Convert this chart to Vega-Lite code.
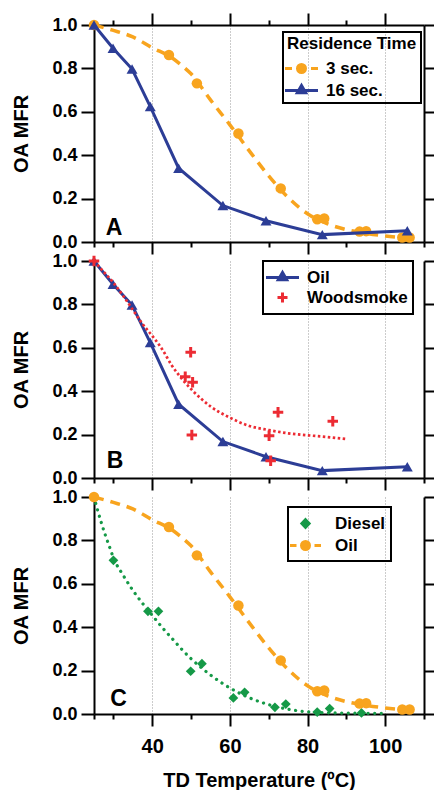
{
  "$schema": "https://vega.github.io/schema/vega-lite/v6.json",
  "background": "white",
  "padding": {"left": 11, "top": 12, "right": 0, "bottom": 0},
  "spacing": 19,
  "bounds": "flush",
  "resolve": {"scale": {"color": "independent"}, "legend": {"color": "independent"}},
  "config": {
    "view": {"stroke": null},
    "axis": {"domainColor": "black", "tickColor": "black", "domainWidth": 2, "tickWidth": 2, "labelFont": "Liberation Sans", "labelFontWeight": "bold", "labelColor": "black", "titleFont": "Liberation Sans", "titleFontWeight": "bold", "titleColor": "black"},
    "legend": {"labelFont": "Liberation Sans", "labelFontWeight": "bold", "labelColor": "black", "labelFontSize": 17, "titleFont": "Liberation Sans", "titleFontWeight": "bold", "titleColor": "black", "titleFontSize": 17, "strokeColor": "black", "symbolSize": 400, "symbolStrokeWidth": 3, "symbolOffset": 3, "labelOffset": 13, "rowPadding": -1, "padding": 4, "orient": "none"}
  },
  "datasets": {
    "panelA": [
      {"series": "3 sec.", "T": 25, "MFR": 1.0},
      {"series": "3 sec.", "T": 44.3, "MFR": 0.862},
      {"series": "3 sec.", "T": 51.5, "MFR": 0.731},
      {"series": "3 sec.", "T": 62.2, "MFR": 0.5},
      {"series": "3 sec.", "T": 73.1, "MFR": 0.247},
      {"series": "3 sec.", "T": 82.5, "MFR": 0.105},
      {"series": "3 sec.", "T": 84.3, "MFR": 0.108},
      {"series": "3 sec.", "T": 93.4, "MFR": 0.048},
      {"series": "3 sec.", "T": 95.1, "MFR": 0.05},
      {"series": "3 sec.", "T": 104.4, "MFR": 0.021},
      {"series": "3 sec.", "T": 106.3, "MFR": 0.021},
      {"series": "16 sec.", "T": 25, "MFR": 1.0},
      {"series": "16 sec.", "T": 29.9, "MFR": 0.893},
      {"series": "16 sec.", "T": 34.8, "MFR": 0.797},
      {"series": "16 sec.", "T": 39.5, "MFR": 0.624},
      {"series": "16 sec.", "T": 46.8, "MFR": 0.34},
      {"series": "16 sec.", "T": 58.2, "MFR": 0.168},
      {"series": "16 sec.", "T": 69.3, "MFR": 0.098},
      {"series": "16 sec.", "T": 83.8, "MFR": 0.034},
      {"series": "16 sec.", "T": 105.7, "MFR": 0.052}
    ],
    "fitA": [
      {"series": "3 sec.", "T": 25, "MFR": 1.0}, {"series": "3 sec.", "T": 30, "MFR": 0.975}, {"series": "3 sec.", "T": 35, "MFR": 0.945}, {"series": "3 sec.", "T": 40, "MFR": 0.895},
      {"series": "3 sec.", "T": 45, "MFR": 0.85}, {"series": "3 sec.", "T": 47.5, "MFR": 0.815}, {"series": "3 sec.", "T": 50, "MFR": 0.775}, {"series": "3 sec.", "T": 55, "MFR": 0.655},
      {"series": "3 sec.", "T": 60, "MFR": 0.54}, {"series": "3 sec.", "T": 65, "MFR": 0.42}, {"series": "3 sec.", "T": 70, "MFR": 0.305}, {"series": "3 sec.", "T": 75, "MFR": 0.205},
      {"series": "3 sec.", "T": 80, "MFR": 0.13}, {"series": "3 sec.", "T": 85, "MFR": 0.085}, {"series": "3 sec.", "T": 90, "MFR": 0.057}, {"series": "3 sec.", "T": 95, "MFR": 0.04},
      {"series": "3 sec.", "T": 100, "MFR": 0.028}, {"series": "3 sec.", "T": 108, "MFR": 0.015}
    ],
    "panelB": [
      {"series": "Oil", "T": 25, "MFR": 1.0},
      {"series": "Oil", "T": 29.9, "MFR": 0.893},
      {"series": "Oil", "T": 34.8, "MFR": 0.797},
      {"series": "Oil", "T": 39.5, "MFR": 0.624},
      {"series": "Oil", "T": 46.8, "MFR": 0.34},
      {"series": "Oil", "T": 58.2, "MFR": 0.168},
      {"series": "Oil", "T": 69.3, "MFR": 0.098},
      {"series": "Oil", "T": 83.8, "MFR": 0.034},
      {"series": "Oil", "T": 105.7, "MFR": 0.052},
      {"series": "Woodsmoke", "T": 25, "MFR": 1.0},
      {"series": "Woodsmoke", "T": 49.9, "MFR": 0.579},
      {"series": "Woodsmoke", "T": 48.5, "MFR": 0.467},
      {"series": "Woodsmoke", "T": 50.4, "MFR": 0.441},
      {"series": "Woodsmoke", "T": 50.2, "MFR": 0.198},
      {"series": "Woodsmoke", "T": 72.4, "MFR": 0.303},
      {"series": "Woodsmoke", "T": 70.1, "MFR": 0.195},
      {"series": "Woodsmoke", "T": 70.5, "MFR": 0.08},
      {"series": "Woodsmoke", "T": 86.5, "MFR": 0.261}
    ],
    "woodFit": [
      {"T": 25, "MFR": 1.0}, {"T": 27.5, "MFR": 0.95}, {"T": 30, "MFR": 0.9}, {"T": 32.5, "MFR": 0.84},
      {"T": 35, "MFR": 0.775}, {"T": 37.5, "MFR": 0.71}, {"T": 40, "MFR": 0.655}, {"T": 42.5, "MFR": 0.595},
      {"T": 45, "MFR": 0.52}, {"T": 47.5, "MFR": 0.46}, {"T": 50, "MFR": 0.41}, {"T": 55, "MFR": 0.33},
      {"T": 60, "MFR": 0.278}, {"T": 65, "MFR": 0.24}, {"T": 70, "MFR": 0.221}, {"T": 75, "MFR": 0.206},
      {"T": 80, "MFR": 0.197}, {"T": 85, "MFR": 0.189}, {"T": 89.7, "MFR": 0.18}
    ],
    "panelC": [
      {"series": "Diesel", "T": 30.0, "MFR": 0.708},
      {"series": "Diesel", "T": 38.9, "MFR": 0.473},
      {"series": "Diesel", "T": 41.6, "MFR": 0.473},
      {"series": "Diesel", "T": 49.9, "MFR": 0.197},
      {"series": "Diesel", "T": 52.8, "MFR": 0.232},
      {"series": "Diesel", "T": 60.9, "MFR": 0.074},
      {"series": "Diesel", "T": 63.8, "MFR": 0.1},
      {"series": "Diesel", "T": 71.6, "MFR": 0.031},
      {"series": "Diesel", "T": 74.4, "MFR": 0.046},
      {"series": "Diesel", "T": 82.5, "MFR": 0.009},
      {"series": "Diesel", "T": 85.7, "MFR": 0.025},
      {"series": "Diesel", "T": 93.9, "MFR": 0.005},
      {"series": "Oil", "T": 25, "MFR": 1.0},
      {"series": "Oil", "T": 44.3, "MFR": 0.862},
      {"series": "Oil", "T": 51.5, "MFR": 0.731},
      {"series": "Oil", "T": 62.2, "MFR": 0.5},
      {"series": "Oil", "T": 73.1, "MFR": 0.247},
      {"series": "Oil", "T": 82.5, "MFR": 0.105},
      {"series": "Oil", "T": 84.3, "MFR": 0.108},
      {"series": "Oil", "T": 93.4, "MFR": 0.048},
      {"series": "Oil", "T": 95.1, "MFR": 0.05},
      {"series": "Oil", "T": 104.4, "MFR": 0.021},
      {"series": "Oil", "T": 106.3, "MFR": 0.021}
    ],
    "fitC": [
      {"series": "Oil", "T": 25, "MFR": 1.0}, {"series": "Oil", "T": 30, "MFR": 0.975}, {"series": "Oil", "T": 35, "MFR": 0.945}, {"series": "Oil", "T": 40, "MFR": 0.895},
      {"series": "Oil", "T": 45, "MFR": 0.85}, {"series": "Oil", "T": 47.5, "MFR": 0.815}, {"series": "Oil", "T": 50, "MFR": 0.775}, {"series": "Oil", "T": 55, "MFR": 0.655},
      {"series": "Oil", "T": 60, "MFR": 0.54}, {"series": "Oil", "T": 65, "MFR": 0.42}, {"series": "Oil", "T": 70, "MFR": 0.305}, {"series": "Oil", "T": 75, "MFR": 0.205},
      {"series": "Oil", "T": 80, "MFR": 0.13}, {"series": "Oil", "T": 85, "MFR": 0.085}, {"series": "Oil", "T": 90, "MFR": 0.057}, {"series": "Oil", "T": 95, "MFR": 0.04},
      {"series": "Oil", "T": 100, "MFR": 0.028}, {"series": "Oil", "T": 108, "MFR": 0.015}
    ],
    "dieselFit": [
      {"series": "Diesel", "T": 25, "MFR": 1.0}, {"series": "Diesel", "T": 26, "MFR": 0.935}, {"series": "Diesel", "T": 27, "MFR": 0.875}, {"series": "Diesel", "T": 28, "MFR": 0.82},
      {"series": "Diesel", "T": 29, "MFR": 0.77}, {"series": "Diesel", "T": 30, "MFR": 0.72}, {"series": "Diesel", "T": 32.5, "MFR": 0.64}, {"series": "Diesel", "T": 35, "MFR": 0.57},
      {"series": "Diesel", "T": 37.5, "MFR": 0.51}, {"series": "Diesel", "T": 40, "MFR": 0.455}, {"series": "Diesel", "T": 42.5, "MFR": 0.4}, {"series": "Diesel", "T": 45, "MFR": 0.35},
      {"series": "Diesel", "T": 47.5, "MFR": 0.3}, {"series": "Diesel", "T": 50, "MFR": 0.255}, {"series": "Diesel", "T": 55, "MFR": 0.18}, {"series": "Diesel", "T": 60, "MFR": 0.12},
      {"series": "Diesel", "T": 65, "MFR": 0.075}, {"series": "Diesel", "T": 70, "MFR": 0.043}, {"series": "Diesel", "T": 75, "MFR": 0.022}, {"series": "Diesel", "T": 80, "MFR": 0.01},
      {"series": "Diesel", "T": 90, "MFR": 0.004}, {"series": "Diesel", "T": 100, "MFR": 0.003}
    ]
  },
  "vconcat": [
    {
      "width": 330, "height": 217,
      "resolve": {"axis": {"x": "independent", "y": "independent"}},
      "layer": [
        {
          "data": {"name": "fitA"},
          "mark": {"type": "line", "strokeWidth": 3.5, "strokeDash": [10, 7], "interpolate": "monotone"},
          "encoding": {
            "x": {"field": "T", "type": "quantitative", "scale": {"domain": [25, 110], "nice": false, "zero": false},
              "axis": {"orient": "bottom", "values": [40, 60, 80, 100], "tickSize": 12, "labels": false, "title": null, "grid": true, "gridColor": "#999999", "gridDash": [1, 2], "gridWidth": 1}},
            "y": {"field": "MFR", "type": "quantitative", "scale": {"domain": [0, 1], "nice": false},
              "axis": {"orient": "left", "values": [0, 0.2, 0.4, 0.6, 0.8, 1.0], "format": ".1f", "tickSize": 13, "labelPadding": 4, "labelFontSize": 18, "title": "OA MFR", "titleFontSize": 20, "titlePadding": 20, "grid": false}},
            "color": {"field": "series", "type": "nominal", "scale": {"domain": ["3 sec.", "16 sec."], "range": ["#F8A41E", "#2C3D96"]},
              "legend": {"title": "Residence Time", "legendX": 189, "legendY": 7, "titlePadding": 4,
                "encode": {
                  "legend": {"update": {"strokeWidth": {"value": 2}}},
                  "symbols": {"update": {
                    "shape": {"signal": "datum.value === '3 sec.' ? 'M-1.65,0H-0.95M0.95,0H1.65M-0.4,0A0.4,0.4 0 1,0 0.4,0A0.4,0.4 0 1,0 -0.4,0Z' : 'M-1.65,0H1.65M-0.42,0.22L0,-0.5L0.42,0.22Z'"},
                    "fill": {"signal": "datum.value === '3 sec.' ? '#F8A41E' : '#2C3D96'"},
                    "stroke": {"signal": "datum.value === '3 sec.' ? '#F8A41E' : '#2C3D96'"},
                    "strokeWidth": {"value": 3}, "strokeDash": {"value": []}, "opacity": {"value": 1}, "fillOpacity": {"value": 1}}}
                }}}
          }
        },
        {
          "data": {"name": "panelA"},
          "transform": [{"filter": "datum.series === '3 sec.'"}],
          "mark": {"type": "point", "shape": "circle", "filled": true, "size": 110, "opacity": 1},
          "encoding": {
            "x": {"field": "T", "type": "quantitative", "scale": {"domain": [25, 110], "nice": false, "zero": false},
              "axis": {"orient": "bottom", "values": [25, 30, 50, 70, 90, 110], "tickSize": 5, "labels": false, "domain": false, "grid": false, "title": null}},
            "y": {"field": "MFR", "type": "quantitative", "scale": {"domain": [0, 1], "nice": false},
              "axis": {"orient": "right", "values": [0, 0.2, 0.4, 0.6, 0.8, 1.0], "tickSize": 12, "labels": false, "grid": false, "title": null}},
            "color": {"field": "series", "type": "nominal", "scale": {"domain": ["3 sec.", "16 sec."], "range": ["#F8A41E", "#2C3D96"]}}
          }
        },
        {
          "data": {"name": "panelA"},
          "transform": [{"filter": "datum.series === '16 sec.'"}],
          "mark": {"type": "line", "strokeWidth": 3},
          "encoding": {
            "x": {"field": "T", "type": "quantitative", "scale": {"domain": [25, 110], "nice": false, "zero": false},
              "axis": {"orient": "top", "values": [40, 60, 80, 100], "tickSize": 12, "labels": false, "grid": false, "title": null}},
            "y": {"field": "MFR", "type": "quantitative", "scale": {"domain": [0, 1], "nice": false}, "axis": null},
            "color": {"field": "series", "type": "nominal", "scale": {"domain": ["3 sec.", "16 sec."], "range": ["#F8A41E", "#2C3D96"]}}
          }
        },
        {
          "data": {"name": "panelA"},
          "transform": [{"filter": "datum.series === '16 sec.'"}],
          "mark": {"type": "point", "shape": "triangle-up", "filled": true, "size": 120, "opacity": 1},
          "encoding": {
            "x": {"field": "T", "type": "quantitative", "scale": {"domain": [25, 110], "nice": false, "zero": false},
              "axis": {"orient": "top", "values": [30, 50, 70, 90], "tickSize": 5, "labels": false, "domain": false, "grid": false, "title": null}},
            "y": {"field": "MFR", "type": "quantitative", "scale": {"domain": [0, 1], "nice": false}, "axis": null},
            "color": {"field": "series", "type": "nominal", "scale": {"domain": ["3 sec.", "16 sec."], "range": ["#F8A41E", "#2C3D96"]}}
          }
        },
        {
          "data": {"values": [{"label": "A"}]},
          "mark": {"type": "text", "font": "Liberation Sans", "fontWeight": "bold", "fontSize": 23, "align": "left", "baseline": "alphabetic", "color": "black"},
          "encoding": {
            "x": {"datum": 28, "type": "quantitative", "scale": {"domain": [25, 110], "nice": false, "zero": false}, "axis": null},
            "y": {"datum": 0.032, "type": "quantitative", "scale": {"domain": [0, 1], "nice": false}, "axis": null},
            "text": {"field": "label"}
          }
        }
      ]
    },
    {
      "width": 330, "height": 217,
      "resolve": {"axis": {"x": "independent", "y": "independent"}},
      "layer": [
        {
          "data": {"name": "panelB"},
          "transform": [{"filter": "datum.series === 'Oil'"}],
          "mark": {"type": "line", "strokeWidth": 3},
          "encoding": {
            "x": {"field": "T", "type": "quantitative", "scale": {"domain": [25, 110], "nice": false, "zero": false},
              "axis": {"orient": "bottom", "values": [40, 60, 80, 100], "tickSize": 12, "labels": false, "title": null, "grid": true, "gridColor": "#999999", "gridDash": [1, 2], "gridWidth": 1}},
            "y": {"field": "MFR", "type": "quantitative", "scale": {"domain": [0, 1], "nice": false},
              "axis": {"orient": "left", "values": [0, 0.2, 0.4, 0.6, 0.8, 1.0], "format": ".1f", "tickSize": 13, "labelPadding": 4, "labelFontSize": 18, "title": "OA MFR", "titleFontSize": 20, "titlePadding": 20, "grid": false}},
            "color": {"field": "series", "type": "nominal", "scale": {"domain": ["Oil", "Woodsmoke"], "range": ["#2C3D96", "#EC2B33"]},
              "legend": {"title": null, "legendX": 169, "legendY": 0, "padding": 5,
                "encode": {
                  "legend": {"update": {"strokeWidth": {"value": 2}}},
                  "symbols": {"update": {
                    "shape": {"signal": "datum.value === 'Oil' ? 'M-1.65,0H1.65M-0.42,0.22L0,-0.5L0.42,0.22Z' : 'M-0.5,0H0.5M0,-0.5V0.5'"},
                    "fill": {"signal": "datum.value === 'Oil' ? '#2C3D96' : 'transparent'"},
                    "stroke": {"signal": "datum.value === 'Oil' ? '#2C3D96' : '#EC2B33'"},
                    "strokeWidth": {"value": 3}, "opacity": {"value": 1}, "fillOpacity": {"value": 1}}}
                }}}
          }
        },
        {
          "data": {"name": "panelB"},
          "transform": [{"filter": "datum.series === 'Oil'"}],
          "mark": {"type": "point", "shape": "triangle-up", "filled": true, "size": 120, "opacity": 1},
          "encoding": {
            "x": {"field": "T", "type": "quantitative", "scale": {"domain": [25, 110], "nice": false, "zero": false},
              "axis": {"orient": "bottom", "values": [25, 30, 50, 70, 90, 110], "tickSize": 5, "labels": false, "domain": false, "grid": false, "title": null}},
            "y": {"field": "MFR", "type": "quantitative", "scale": {"domain": [0, 1], "nice": false},
              "axis": {"orient": "right", "values": [0, 0.2, 0.4, 0.6, 0.8, 1.0], "tickSize": 12, "labels": false, "grid": false, "title": null}},
            "color": {"field": "series", "type": "nominal", "scale": {"domain": ["Oil", "Woodsmoke"], "range": ["#2C3D96", "#EC2B33"]}}
          }
        },
        {
          "data": {"name": "woodFit"},
          "mark": {"type": "line", "color": "#EC2B33", "strokeWidth": 2.7, "strokeDash": [2.5, 2.5], "interpolate": "monotone"},
          "encoding": {
            "x": {"field": "T", "type": "quantitative", "scale": {"domain": [25, 110], "nice": false, "zero": false}, "axis": null},
            "y": {"field": "MFR", "type": "quantitative", "scale": {"domain": [0, 1], "nice": false}, "axis": null}
          }
        },
        {
          "data": {"name": "panelB"},
          "transform": [{"filter": "datum.series === 'Woodsmoke'"}],
          "mark": {"type": "point", "shape": "M-1,0H1M0,-1V1", "filled": false, "size": 110, "strokeWidth": 3, "opacity": 1},
          "encoding": {
            "x": {"field": "T", "type": "quantitative", "scale": {"domain": [25, 110], "nice": false, "zero": false}, "axis": null},
            "y": {"field": "MFR", "type": "quantitative", "scale": {"domain": [0, 1], "nice": false}, "axis": null},
            "color": {"field": "series", "type": "nominal", "scale": {"domain": ["Oil", "Woodsmoke"], "range": ["#2C3D96", "#EC2B33"]}}
          }
        },
        {
          "data": {"values": [{"label": "B"}]},
          "mark": {"type": "text", "font": "Liberation Sans", "fontWeight": "bold", "fontSize": 23, "align": "left", "baseline": "alphabetic", "color": "black"},
          "encoding": {
            "x": {"datum": 28.3, "type": "quantitative", "scale": {"domain": [25, 110], "nice": false, "zero": false}, "axis": null},
            "y": {"datum": 0.044, "type": "quantitative", "scale": {"domain": [0, 1], "nice": false}, "axis": null},
            "text": {"field": "label"}
          }
        }
      ]
    },
    {
      "width": 330, "height": 217,
      "resolve": {"axis": {"x": "independent", "y": "independent"}},
      "layer": [
        {
          "data": {"name": "dieselFit"},
          "mark": {"type": "line", "strokeWidth": 3.2, "strokeDash": [0.1, 6.5], "strokeCap": "round", "interpolate": "monotone"},
          "encoding": {
            "x": {"field": "T", "type": "quantitative", "scale": {"domain": [25, 110], "nice": false, "zero": false},
              "axis": {"orient": "bottom", "values": [40, 60, 80, 100], "tickSize": 12, "labels": true, "labelFontSize": 20, "labelPadding": 10, "title": "TD Temperature (ºC)", "titleFontSize": 20, "titlePadding": 14, "grid": true, "gridColor": "#999999", "gridDash": [1, 2], "gridWidth": 1}},
            "y": {"field": "MFR", "type": "quantitative", "scale": {"domain": [0, 1], "nice": false},
              "axis": {"orient": "left", "values": [0, 0.2, 0.4, 0.6, 0.8, 1.0], "format": ".1f", "tickSize": 13, "labelPadding": 4, "labelFontSize": 18, "title": "OA MFR", "titleFontSize": 20, "titlePadding": 20, "grid": false}},
            "color": {"field": "series", "type": "nominal", "scale": {"domain": ["Diesel", "Oil"], "range": ["#159947", "#F8A41E"]},
              "legend": {"title": null, "legendX": 194, "legendY": 10, "padding": 5, "symbolOffset": 1, "labelOffset": 18,
                "encode": {
                  "legend": {"update": {"strokeWidth": {"value": 2}}},
                  "symbols": {"update": {
                    "shape": {"signal": "datum.value === 'Oil' ? 'M-1.55,0H-0.9M0.9,0H1.55M-0.4,0A0.4,0.4 0 1,0 0.4,0A0.4,0.4 0 1,0 -0.4,0Z' : 'M0,-0.38L0.36,0L0,0.38L-0.36,0Z'"},
                    "fill": {"signal": "datum.value === 'Oil' ? '#F8A41E' : '#159947'"},
                    "stroke": {"signal": "datum.value === 'Oil' ? '#F8A41E' : '#159947'"},
                    "strokeWidth": {"value": 3}, "strokeDash": {"value": []}, "opacity": {"value": 1}, "fillOpacity": {"value": 1}}}
                }}}
          }
        },
        {
          "data": {"name": "panelC"},
          "transform": [{"filter": "datum.series === 'Diesel'"}],
          "mark": {"type": "point", "shape": "diamond", "filled": true, "size": 95, "opacity": 1},
          "encoding": {
            "x": {"field": "T", "type": "quantitative", "scale": {"domain": [25, 110], "nice": false, "zero": false},
              "axis": {"orient": "bottom", "values": [25, 30, 50, 70, 90, 110], "tickSize": 5, "labels": false, "domain": false, "grid": false, "title": null}},
            "y": {"field": "MFR", "type": "quantitative", "scale": {"domain": [0, 1], "nice": false},
              "axis": {"orient": "right", "values": [0, 0.2, 0.4, 0.6, 0.8, 1.0], "tickSize": 12, "labels": false, "grid": false, "title": null}},
            "color": {"field": "series", "type": "nominal", "scale": {"domain": ["Diesel", "Oil"], "range": ["#159947", "#F8A41E"]}}
          }
        },
        {
          "data": {"name": "fitC"},
          "mark": {"type": "line", "strokeWidth": 3.5, "strokeDash": [10, 7], "interpolate": "monotone"},
          "encoding": {
            "x": {"field": "T", "type": "quantitative", "scale": {"domain": [25, 110], "nice": false, "zero": false}, "axis": null},
            "y": {"field": "MFR", "type": "quantitative", "scale": {"domain": [0, 1], "nice": false}, "axis": null},
            "color": {"field": "series", "type": "nominal", "scale": {"domain": ["Diesel", "Oil"], "range": ["#159947", "#F8A41E"]}}
          }
        },
        {
          "data": {"name": "panelC"},
          "transform": [{"filter": "datum.series === 'Oil'"}],
          "mark": {"type": "point", "shape": "circle", "filled": true, "size": 110, "opacity": 1},
          "encoding": {
            "x": {"field": "T", "type": "quantitative", "scale": {"domain": [25, 110], "nice": false, "zero": false}, "axis": null},
            "y": {"field": "MFR", "type": "quantitative", "scale": {"domain": [0, 1], "nice": false}, "axis": null},
            "color": {"field": "series", "type": "nominal", "scale": {"domain": ["Diesel", "Oil"], "range": ["#159947", "#F8A41E"]}}
          }
        },
        {
          "data": {"values": [{"label": "C"}]},
          "mark": {"type": "text", "font": "Liberation Sans", "fontWeight": "bold", "fontSize": 23, "align": "left", "baseline": "alphabetic", "color": "black"},
          "encoding": {
            "x": {"datum": 29.2, "type": "quantitative", "scale": {"domain": [25, 110], "nice": false, "zero": false}, "axis": null},
            "y": {"datum": 0.035, "type": "quantitative", "scale": {"domain": [0, 1], "nice": false}, "axis": null},
            "text": {"field": "label"}
          }
        }
      ]
    }
  ]
}
